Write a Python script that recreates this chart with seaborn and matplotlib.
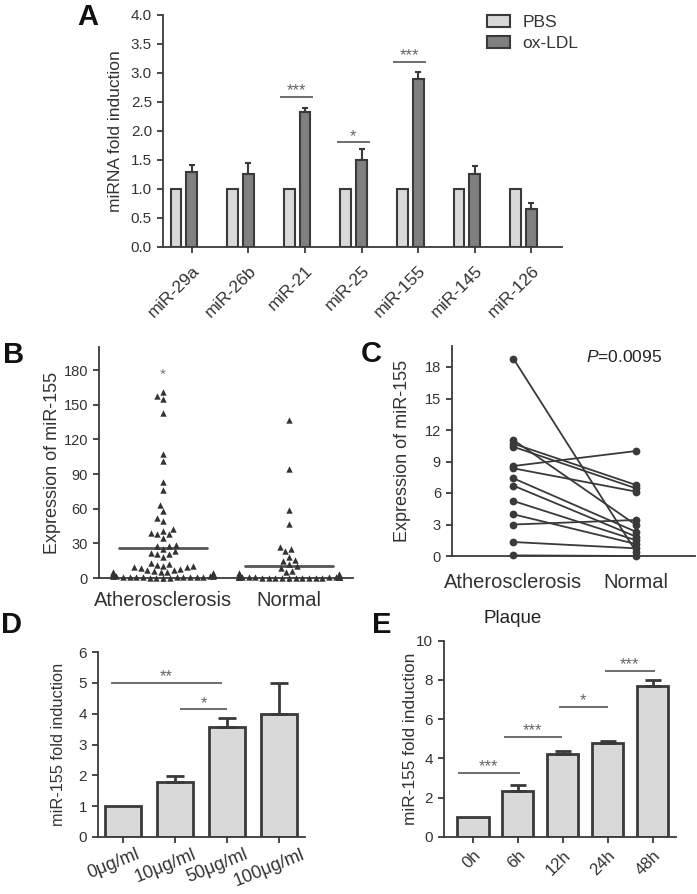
import matplotlib
matplotlib.use('Agg')
import matplotlib.pyplot as plt
import matplotlib.transforms as mtransforms
from matplotlib.patches import Patch
from matplotlib import font_manager
import seaborn as sns
import numpy as np
import pandas as pd

# ---------------- data ----------------
# A: miRNA fold induction (PBS vs ox-LDL)
mirnas = ['miR-29a', 'miR-26b', 'miR-21', 'miR-25', 'miR-155', 'miR-145', 'miR-126']
pbs = [1.0, 1.0, 1.0, 1.0, 1.0, 1.0, 1.0]
ox_ldl = [1.30, 1.26, 2.33, 1.50, 2.89, 1.25, 0.66]
ox_ldl_err = [0.12, 0.19, 0.07, 0.18, 0.13, 0.15, 0.10]
sig_a = [(2, 2.59, '***'), (3, 1.80, '*'), (4, 3.19, '***')]

# B: expression of miR-155 in tissue samples
athero_b = [161, 158, 155, 143, 107, 101, 83, 76, 63, 58, 52, 49, 42, 41, 39, 38, 38, 35,
            28.5, 28, 27.5, 25.5, 23, 21.5, 21, 21, 18, 13, 12.5, 11, 10.5, 10, 9.8, 9.5, 9,
            7.5, 7, 6.5, 6.0, 5.6, 5.2, 4.8, 4.4, 4.0, 3.7, 3.4, 3.1, 2.8, 2.5, 2.2, 2.0,
            1.8, 1.6, 1.4, 1.2, 1.0, 0.9, 0.8, 0.7, 0.6, 0.5, 0.4, 0.3, 0.2, 0.1, 3.2, 2.6,
            1.9, 1.5, 1.1, 0.75]
normal_b = [137, 94, 59, 47, 27, 25.5, 23, 18.5, 15.5, 15, 12.5, 10, 8.5, 6, 5, 4, 3.5, 3,
            2.5, 2, 1.8, 1.5, 1.2, 1, 0.8, 0.6, 0.5, 0.4, 0.3, 0.2, 0.1, 0.15, 0.2, 0.25,
            0.3, 0.35, 0.4, 0.45, 0.5, 0.55, 0.6, 0.65, 0.7, 0.75, 0.8, 0.85, 0.9, 0.95,
            1.05, 1.15]
groups = ['Atherosclerosis', 'Normal']

# C: paired samples
athero_c = [18.8, 11.05, 10.7, 10.4, 8.57, 8.35, 7.4, 6.7, 5.24, 3.97, 3.0, 1.33, 0.06]
normal_c = [0.41, 2.95, 6.76, 6.44, 10.0, 6.13, 2.3, 1.84, 1.5, 1.14, 3.43, 0.73, 0.0]

# D: ox-LDL dose
doses = ['0μg/ml', '10μg/ml', '50μg/ml', '100μg/ml']
dose_fold = [1.0, 1.77, 3.57, 4.0]
dose_err = [0.0, 0.22, 0.30, 0.98]
sig_d = [(-0.23, 1.9, 5.01, '**'), (1.1, 2.0, 4.14, '*')]

# E: time course
hours = ['0h', '6h', '12h', '24h', '48h']
time_fold = [1.0, 2.36, 4.24, 4.81, 7.71]
time_err = [0.0, 0.30, 0.15, 0.09, 0.27]
sig_e = [(-0.33, 1.05, 3.25, '***'), (0.69, 1.98, 5.1, '***'),
         (1.91, 3.0, 6.64, '*'), (2.93, 4.06, 8.47, '***')]

# ---------------- style ----------------
sns.set_style('ticks')
installed = {f.name for f in font_manager.fontManager.ttflist}
narrow = 'Liberation Sans Narrow' if 'Liberation Sans Narrow' in installed else 'Liberation Sans'
TEXT = '#333333'
EDGE = '#3a3a3a'
plt.rcParams['font.family'] = ['Liberation Sans', 'DejaVu Sans']
plt.rcParams.update({
    'text.color': TEXT, 'axes.labelcolor': TEXT,
    'xtick.color': EDGE, 'ytick.color': EDGE,
    'xtick.labelcolor': TEXT, 'ytick.labelcolor': TEXT,
    'axes.edgecolor': EDGE, 'axes.linewidth': 1.3,
    'xtick.major.width': 1.3, 'ytick.major.width': 1.3,
    'xtick.major.size': 4.5, 'ytick.major.size': 4.5,
    'mathtext.fontset': 'custom', 'mathtext.rm': 'Liberation Sans',
    'mathtext.it': 'Liberation Sans:italic',
})

W, H = 697, 894
fig = plt.figure(figsize=(W / 100, H / 100), dpi=100)


def rect(x0, y0, x1, y1):
    return [x0 / W, 1 - y1 / H, (x1 - x0) / W, (y1 - y0) / H]


def ylabel_at(ax, text, px, x0, x1, size):
    ax.set_ylabel(text, fontsize=size)
    ax.yaxis.set_label_coords((px - x0) / (x1 - x0), 0.5)


def sig(ax, xa, xb, y, txt):
    ax.plot([xa, xb], [y, y], color='#555555', lw=1.2, solid_capstyle='butt')
    ax.annotate(txt, xy=((xa + xb) / 2, y), xytext=(0, 1.2), textcoords='offset points',
                ha='center', va='baseline', color='#666666', fontsize=12)


def letter(x, y, s):
    fig.text(x / W, 1 - y / H, s, fontsize=21, fontweight='bold', color='#111111',
             ha='left', va='baseline')


# ---------------- A ----------------
axA = fig.add_axes(rect(163, 14.7, 562, 247))
df_a = pd.DataFrame({'miRNA': mirnas * 2, 'value': pbs + ox_ldl,
                     'group': ['PBS'] * len(mirnas) + ['ox-LDL'] * len(mirnas)})
pal_a = ['#d9d9d9', '#808080']
sns.barplot(data=df_a, x='miRNA', y='value', hue='group', palette=pal_a, saturation=1,
            width=0.56, gap=0.32, edgecolor=EDGE, linewidth=1.5, errorbar=None,
            legend=False, ax=axA)
ox_x = [p.get_x() + p.get_width() / 2 for p in axA.containers[1]]
axA.errorbar(ox_x, ox_ldl, yerr=[np.zeros(len(ox_ldl)), ox_ldl_err], fmt='none',
             ecolor=EDGE, elinewidth=1.5, capsize=2.5, capthick=1.5)
for i, y, txt in sig_a:
    sig(axA, i - 0.3, i + 0.28, y, txt)
axA.set_xlim(-0.37, 6.68)
axA.set_ylim(0, 4.0)
axA.set_yticks(np.arange(0, 4.01, 0.5))
axA.set_yticklabels([f'{v:.1f}' for v in np.arange(0, 4.01, 0.5)], fontsize=11)
axA.set_xticks(ox_x)
axA.set_xticklabels(mirnas, rotation=45, ha='right', va='top', rotation_mode='anchor',
                    fontsize=12.5)
axA.tick_params(axis='x', pad=7)
axA.set_xlabel('')
ylabel_at(axA, 'miRNA fold induction', 123, 163, 562, 12.5)
handles = [Patch(facecolor=c, edgecolor=EDGE, linewidth=1.5, label=l)
           for c, l in zip(pal_a, ['PBS', 'ox-LDL'])]
axA.legend(handles=handles, frameon=False, loc='upper left', fontsize=12.5,
           bbox_to_anchor=(487 / W, 1 - 15 / H), bbox_transform=fig.transFigure,
           borderaxespad=0, borderpad=0, handlelength=1.35, handleheight=0.7,
           handletextpad=0.7, labelspacing=0.35)
sns.despine(ax=axA)

# ---------------- B ----------------
axB = fig.add_axes(rect(99, 347, 353, 578))
df_b = pd.DataFrame({'group': [groups[0]] * len(athero_b) + [groups[1]] * len(normal_b),
                     'value': athero_b + normal_b})
sns.swarmplot(data=df_b, x='group', y='value', order=groups, marker='^', color='#333333',
              size=4.6, linewidth=0, warn_thresh=1, ax=axB)
for c in axB.collections:
    c.set_clip_on(False)
for i, vals in enumerate([athero_b, normal_b]):
    axB.plot([i - 0.35, i + 0.35], [np.mean(vals)] * 2, color='#555555', lw=2)
axB.text(0, 175.6, '*', ha='center', va='center', color='#777777', fontsize=11)
axB.set_xlim(-0.51, 1.51)
axB.set_ylim(0, 200)
axB.set_yticks(range(0, 181, 30))
axB.tick_params(axis='y', labelsize=10.5)
for t in axB.get_yticklabels():
    t.set_fontfamily(narrow)
axB.tick_params(axis='x', labelsize=14.5, length=3, pad=6)
axB.set_xlabel('')
ylabel_at(axB, 'Expression of miR-155', 61, 99, 353, 13)
sns.despine(ax=axB)

# ---------------- C ----------------
axC = fig.add_axes(rect(452, 346, 695, 556))
n_c = len(athero_c)
df_c = pd.DataFrame({'pair': list(range(n_c)) * 2, 'pos': [0] * n_c + [1] * n_c,
                     'value': athero_c + normal_c})
sns.lineplot(data=df_c, x='pos', y='value', units='pair', estimator=None, color='#3a3a3a',
             lw=1.3, marker='o', markersize=5.6, markeredgewidth=0, ax=axC)
for ln in axC.lines:
    ln.set_clip_on(False)
axC.text(0.593, 18.95, r'$P$=0.0095', ha='left', va='center', fontsize=12.5, color='#222222')
axC.set_xlim(-0.5, 1.48)
axC.set_ylim(0, 20)
axC.set_yticks(range(0, 19, 3))
axC.tick_params(axis='y', labelsize=10.5)
for t in axC.get_yticklabels():
    t.set_fontfamily(narrow)
axC.set_xticks([0, 1])
axC.set_xticklabels(groups, fontsize=14.5)
axC.tick_params(axis='x', length=0, pad=12)
axC.set_xlabel('')
ylabel_at(axC, 'Expression of miR-155', 411, 452, 695, 13)
sns.despine(ax=axC)

# ---------------- D ----------------
axD = fig.add_axes(rect(98, 652, 305, 837))
sns.barplot(x=doses, y=dose_fold, color='#d9d9d9', saturation=1, edgecolor=EDGE,
            linewidth=2, width=0.69, errorbar=None, ax=axD)
idx = [i for i, e in enumerate(dose_err) if e > 0]
axD.errorbar(idx, [dose_fold[i] for i in idx],
             yerr=[np.zeros(len(idx)), [dose_err[i] for i in idx]], fmt='none',
             ecolor=EDGE, elinewidth=2, capsize=6.5, capthick=2, zorder=1)
for xa, xb, y, txt in sig_d:
    sig(axD, xa, xb, y, txt)
axD.set_xlim(-0.48, 3.5)
axD.set_ylim(0, 6)
axD.set_yticks(range(0, 7))
axD.tick_params(axis='y', labelsize=11)
axD.set_xticks(range(len(doses)))
axD.set_xticklabels(doses, rotation=22, ha='center', fontsize=13)
axD.tick_params(axis='x', pad=2)
shift = mtransforms.ScaledTranslation(-10 / 100, 0, fig.dpi_scale_trans)
for t in axD.get_xticklabels():
    t.set_transform(t.get_transform() + shift)
ylabel_at(axD, 'miR-155 fold induction', 66, 98, 305, 11.8)
sns.despine(ax=axD)

# ---------------- E ----------------
axE = fig.add_axes(rect(444, 640.7, 676, 837))
sns.barplot(x=hours, y=time_fold, color='#d9d9d9', saturation=1, edgecolor=EDGE,
            linewidth=2, width=0.7, errorbar=None, ax=axE)
idx = [i for i, e in enumerate(time_err) if e > 0]
axE.errorbar(idx, [time_fold[i] for i in idx],
             yerr=[np.zeros(len(idx)), [time_err[i] for i in idx]], fmt='none',
             ecolor=EDGE, elinewidth=2, capsize=6, capthick=2, zorder=1)
for xa, xb, y, txt in sig_e:
    sig(axE, xa, xb, y, txt)
axE.set_xlim(-0.64, 4.52)
axE.set_ylim(0, 10)
axE.set_yticks(range(0, 11, 2))
axE.tick_params(axis='y', labelsize=11)
axE.set_xticks(range(len(hours)))
axE.set_xticklabels(hours, rotation=45, ha='right', va='top', rotation_mode='anchor',
                    fontsize=12)
axE.tick_params(axis='x', pad=3)
ylabel_at(axE, 'miR-155 fold induction', 418, 444, 676, 12.4)
fig.text(513 / W, 1 - 623 / H, 'Plaque', ha='center', va='baseline', fontsize=13.5,
         color='#222222')
sns.despine(ax=axE)

# panel letters
letter(77, 25, 'A')
letter(3, 363, 'B')
letter(361, 362, 'C')
letter(1, 633, 'D')
letter(372, 633, 'E')

fig.savefig('out.png', dpi=100)
